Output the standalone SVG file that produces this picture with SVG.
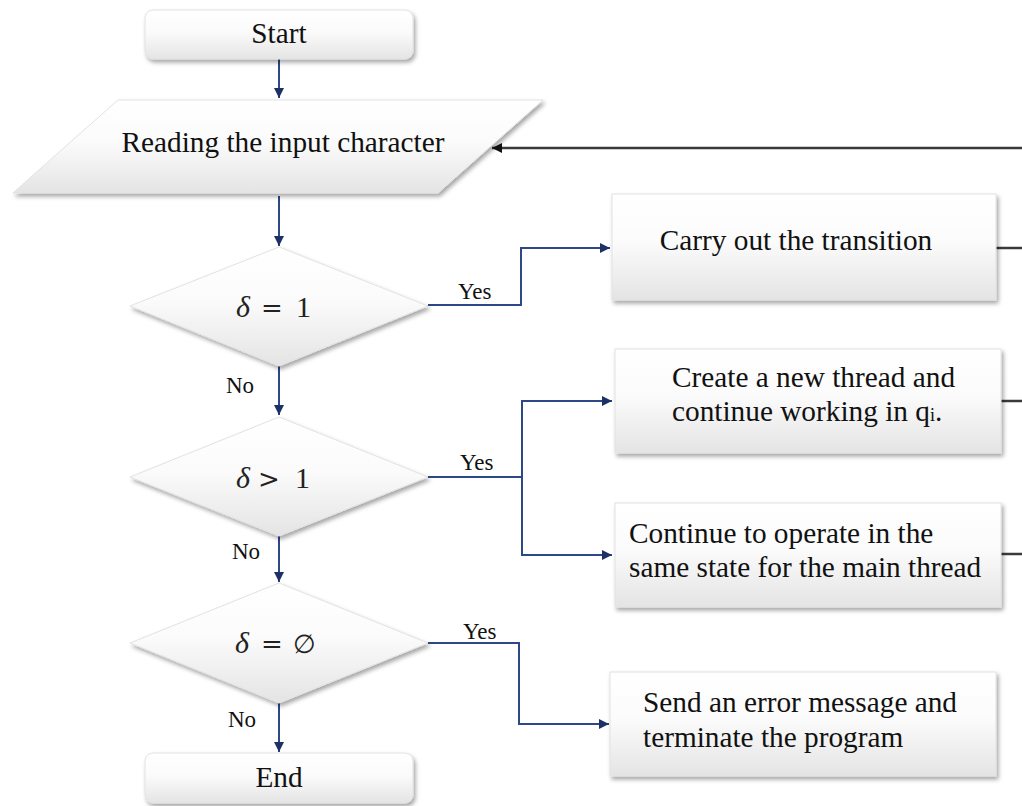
<svg xmlns="http://www.w3.org/2000/svg" width="1022" height="806" viewBox="0 0 1022 806">
<defs>
<linearGradient id="g" x1="0" y1="0" x2="0" y2="1">
<stop offset="0" stop-color="#ffffff"/>
<stop offset="0.45" stop-color="#fbfbfb"/>
<stop offset="1" stop-color="#e4e4e4"/>
</linearGradient>
<filter id="sh" x="-10%" y="-10%" width="125%" height="135%">
<feDropShadow dx="2" dy="3" stdDeviation="2" flood-color="#000" flood-opacity="0.35"/>
</filter>
<marker id="ah" markerUnits="userSpaceOnUse" markerWidth="12" markerHeight="10" refX="10" refY="5" orient="auto">
<path d="M0,0 L10,5 L0,10 Z" fill="#1c3166"/>
</marker>
<marker id="ak" markerUnits="userSpaceOnUse" markerWidth="12" markerHeight="10" refX="10" refY="5" orient="auto">
<path d="M0,0 L10,5 L0,10 Z" fill="#111"/>
</marker>
</defs>
<style>
.shape{fill:url(#g);stroke:#e2e2e2;stroke-width:1;filter:url(#sh)}
.t{font-family:"Liberation Serif","Times New Roman",serif;font-size:29.3px;fill:#111}
.m{font-family:"Liberation Serif","DejaVu Serif",serif;font-size:30px;fill:#222}
.mi{font-style:italic}
.op{font-family:"DejaVu Serif","Liberation Serif",serif;font-size:26px;fill:#222}
.lab{font-family:"Liberation Serif","Times New Roman",serif;font-size:23px;fill:#111}
.c{fill:none;stroke:#2b4887;stroke-width:2}
.ca{fill:none;stroke:#2b4887;stroke-width:2;marker-end:url(#ah)}
.fb{fill:none;stroke:#3a3a3a;stroke-width:2.5}
</style>

<g id="connectors">
<path class="ca" d="M279,59 V98"/>
<path class="ca" d="M279,196 V246"/>
<path class="ca" d="M428,305 H521 V248 H610"/>
<path class="ca" d="M279,366 V415"/>
<path class="ca" d="M428,477 H522 V401 H612"/>
<path class="ca" d="M522,477 V555 H612"/>
<path class="ca" d="M279,536 V582"/>
<path class="ca" d="M428,643 H519 V724 H609"/>
<path class="ca" d="M279,703 V752"/>
<path class="fb" d="M1022,148 H492" style="marker-end:url(#ak)"/>
<path class="fb" d="M996,248 H1022"/>
<path class="fb" d="M1001,401 H1022"/>
<path class="fb" d="M1001,554 H1022"/>
<text class="lab" x="458" y="299">Yes</text>
<text class="lab" x="460" y="470">Yes</text>
<text class="lab" x="463" y="639">Yes</text>
<text class="lab" x="226" y="393">No</text>
<text class="lab" x="232" y="559">No</text>
<text class="lab" x="228" y="727">No</text>
</g>

<g id="start">
<rect class="shape" x="145" y="10" width="268" height="49" rx="8"/>
<text class="t" x="279" y="43" text-anchor="middle">Start</text>
</g>

<g id="read">
<polygon class="shape" points="118,100 543,100 438,193 13,193"/>
<text class="t" x="283" y="152" text-anchor="middle">Reading the input character</text>
</g>

<g id="d1">
<polygon class="shape" points="279,247 428,306 279,366 130,306"/>
<text class="m" y="317"><tspan class="mi" x="236">δ</tspan><tspan class="op" x="261">=</tspan><tspan x="296">1</tspan></text>
</g>

<g id="d2">
<polygon class="shape" points="279,417 428,477 279,536 130,477"/>
<text class="m" y="488"><tspan class="mi" x="236">δ</tspan><tspan class="op" x="258">&gt;</tspan><tspan x="295">1</tspan></text>
</g>

<g id="d3">
<polygon class="shape" points="279,583 428,643 279,703 130,643"/>
<text class="m" y="653"><tspan class="mi" x="235">δ</tspan><tspan class="op" x="261">=</tspan><tspan class="op" x="293">∅</tspan></text>
</g>

<g id="end">
<rect class="shape" x="145" y="753" width="268" height="50" rx="8"/>
<text class="t" x="279" y="787" text-anchor="middle">End</text>
</g>

<g id="carry">
<rect class="shape" x="612" y="194" width="384" height="106"/>
<text class="t" x="796" y="250" text-anchor="middle">Carry out the transition</text>
</g>

<g id="create">
<rect class="shape" x="615" y="349" width="386" height="104"/>
<text class="t" x="672" y="387">Create a new thread and</text>
<text class="t" x="672" y="421">continue working in q<tspan font-size="18">i</tspan>.</text>
</g>

<g id="continue">
<rect class="shape" x="615" y="503" width="386" height="104"/>
<text class="t" x="629" y="543">Continue to operate in the</text>
<text class="t" x="629" y="577">same state for the main thread</text>
</g>

<g id="error">
<rect class="shape" x="610" y="672" width="386" height="104"/>
<text class="t" x="643" y="712">Send an error message and</text>
<text class="t" x="643" y="747">terminate the program</text>
</g>
</svg>
